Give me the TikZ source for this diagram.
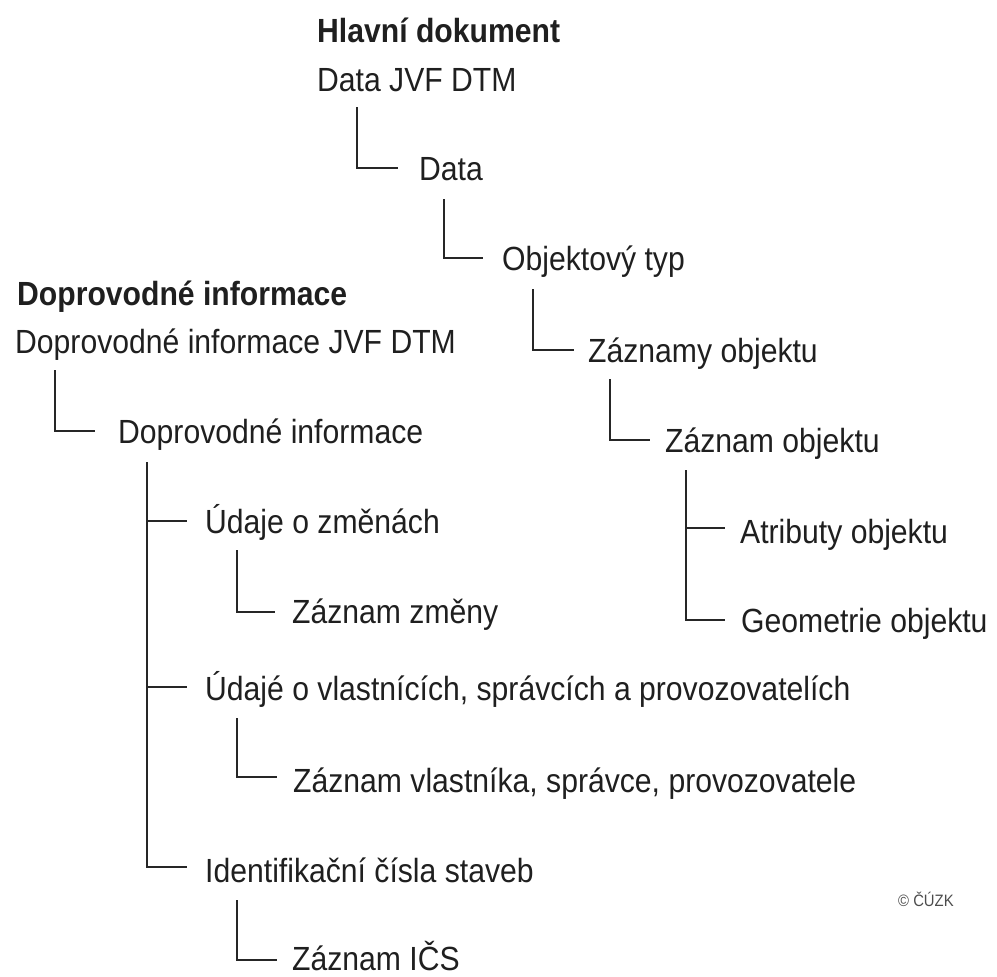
\documentclass[tikz,border=0pt]{standalone}
\usepackage{fontspec}
\setmainfont{Liberation Sans}[FakeStretch=0.9]
\begin{document}
\begin{tikzpicture}[x=1pt,y=-1pt,
  lbl/.style={anchor=base west,inner sep=0pt,font=\fontsize{33.5}{36}\selectfont,text=black!88},
  hdr/.style={lbl,font=\fontsize{33.5}{36}\selectfont\bfseries},
  conn/.style={draw=black!85,line width=2.3pt}]
\useasboundingbox (0,0) rectangle (997,977);
% right tree
\node[hdr] (hd) at (317,42) {Hlavní dokument};
\node[lbl] (d0) at (317,91) {Data JVF DTM};
\node[lbl] (d1) at (419,180) {Data};
\node[lbl] (d2) at (502,270) {Objektový typ};
\node[lbl] (d3) at (588,362) {Záznamy objektu};
\node[lbl] (d4) at (665,452) {Záznam objektu};
\node[lbl] (d5) at (740,543) {Atributy objektu};
\node[lbl] (d6) at (741,632) {Geometrie objektu};
% left tree
\node[hdr] (pd) at (17,305) {Doprovodné informace};
\node[lbl] (p0) at (15,353) {Doprovodné informace JVF DTM};
\node[lbl] (p1) at (118,443) {Doprovodné informace};
\node[lbl] (u1) at (205,533) {Údaje o změnách};
\node[lbl] (z1) at (292,623) {Záznam změny};
\node[lbl] (u2) at (205,700) {Údajé o vlastnících, správcích a provozovatelích};
\node[lbl] (z2) at (293,792) {Záznam vlastníka, správce, provozovatele};
\node[lbl] (u3) at (205,882) {Identifikační čísla staveb};
\node[lbl] (z3) at (292,970) {Záznam IČS};
\node[anchor=base west,inner sep=0pt,font=\fontsize{16.5}{18}\selectfont,text=black!70] (cp) at (898,906) {© ČÚZK};
% connectors right
\draw[conn] ([xshift=40pt,yshift=-16pt]d0.base west) |- ([xshift=-21pt,yshift=12pt]d1.base west);
\draw[conn] ([xshift=25pt,yshift=-19pt]d1.base west) |- ([xshift=-19pt,yshift=12pt]d2.base west);
\draw[conn] ([xshift=31pt,yshift=-19pt]d2.base west) |- ([xshift=-14pt,yshift=12pt]d3.base west);
\draw[conn] ([xshift=22pt,yshift=-17pt]d3.base west) |- ([xshift=-15pt,yshift=12pt]d4.base west);
\draw[conn] ([xshift=21pt,yshift=-18pt]d4.base west) |- ([xshift=-16pt,yshift=12pt]d6.base west);
\draw[conn] ([xshift=21pt]d4.base west |- d5.base west) ++(0,-15) -- ([xshift=-15pt,yshift=15pt]d5.base west);
% connectors left
\draw[conn] ([xshift=40pt,yshift=-17pt]p0.base west) |- ([xshift=-23pt,yshift=12pt]p1.base west);
\draw[conn] ([xshift=29pt,yshift=-19pt]p1.base west) |- ([xshift=-18pt,yshift=15pt]u3.base west);
\draw[conn] ([xshift=29pt]p1.base west |- u1.base west) ++(0,-12) -- ([xshift=-18pt,yshift=12pt]u1.base west);
\draw[conn] ([xshift=29pt]p1.base west |- u2.base west) ++(0,-13) -- ([xshift=-18pt,yshift=13pt]u2.base west);
\draw[conn] ([xshift=32pt,yshift=-17pt]u1.base west) |- ([xshift=-17pt,yshift=11pt]z1.base west);
\draw[conn] ([xshift=32pt,yshift=-18pt]u2.base west) |- ([xshift=-16pt,yshift=15pt]z2.base west);
\draw[conn] ([xshift=32pt,yshift=-18pt]u3.base west) |- ([xshift=-15pt,yshift=10pt]z3.base west);
\end{tikzpicture}
\end{document}
